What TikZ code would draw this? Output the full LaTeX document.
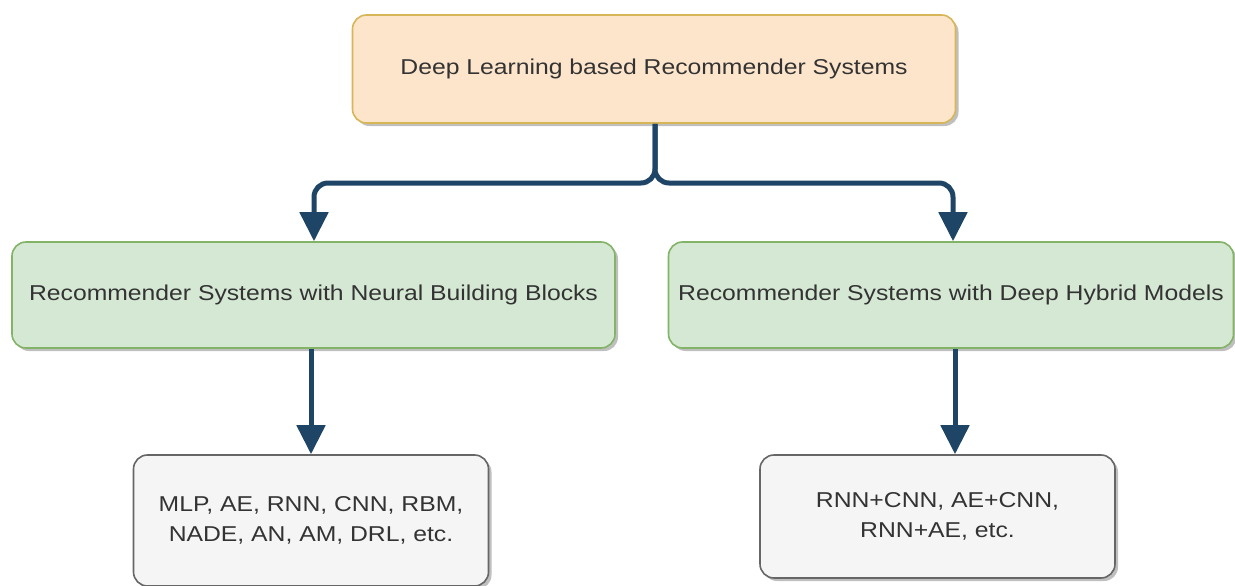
\documentclass[tikz,border=0pt]{standalone}
\usepackage{fontspec}
\setmainfont[FakeStretch=1.15]{Liberation Sans}
\usetikzlibrary{arrows.meta,shadows}
\definecolor{orfill}{HTML}{FDE5CC}
\definecolor{ordraw}{HTML}{D6B656}
\definecolor{grfill}{HTML}{D5E8D4}
\definecolor{grdraw}{HTML}{82B366}
\definecolor{gyfill}{HTML}{F5F5F5}
\definecolor{gydraw}{HTML}{666666}
\definecolor{conncol}{RGB}{31,69,102}
\definecolor{txtcol}{HTML}{333333}
\tikzset{
  box/.style={rectangle, rounded corners=14pt, line width=1.6pt, text=txtcol,
    align=center, inner sep=0pt,
    font=\fontsize{21.5}{30}\selectfont,
    drop shadow={shadow xshift=3pt, shadow yshift=-3pt, fill=black, opacity=0.25}},
  topbox/.style={box, fill=orfill, draw=ordraw},
  midbox/.style={box, fill=grfill, draw=grdraw},
  leafbox/.style={box, fill=gyfill, draw=gydraw},
  conn/.style={draw=conncol, line width=5pt, rounded corners=14pt,
    -{Triangle[width=28pt,length=29pt]}, fill=none}
}
\begin{document}
\begin{tikzpicture}[x=1pt,y=-1pt]
\useasboundingbox (0,0) rectangle (1235,586);
\node[topbox, minimum width=603pt, minimum height=108pt] (top) at (654,69)
  {Deep Learning based Recommender Systems};
\node[midbox, minimum width=603pt, minimum height=106pt] (lg) at (313.5,295)
  {Recommender Systems with Neural Building Blocks};
\node[midbox, minimum width=565pt, minimum height=106pt] (rg) at (951,295)
  {Recommender Systems with Deep Hybrid Models};
\node[leafbox, minimum width=355pt, minimum height=131pt] (bl) at (311,520.5)
  {MLP, AE, RNN, CNN, RBM,\\NADE, AN, AM, DRL, etc.};
\node[leafbox, minimum width=355pt, minimum height=123pt] (br) at (937.5,516.5)
  {RNN+CNN, AE+CNN,\\RNN+AE, etc.};
\coordinate (j) at (655,183);
\draw[conn] (top.south -| j) -- (j) -| (lg.north -| 314,0);
\draw[conn] (top.south -| j) -- (j) -| (rg.north -| 953,0);
\draw[conn] (lg.south -| bl.north) -- (bl.north);
\draw[conn] (rg.south -| 955,0) -- (br.north -| 955,0);
\end{tikzpicture}
\end{document}
